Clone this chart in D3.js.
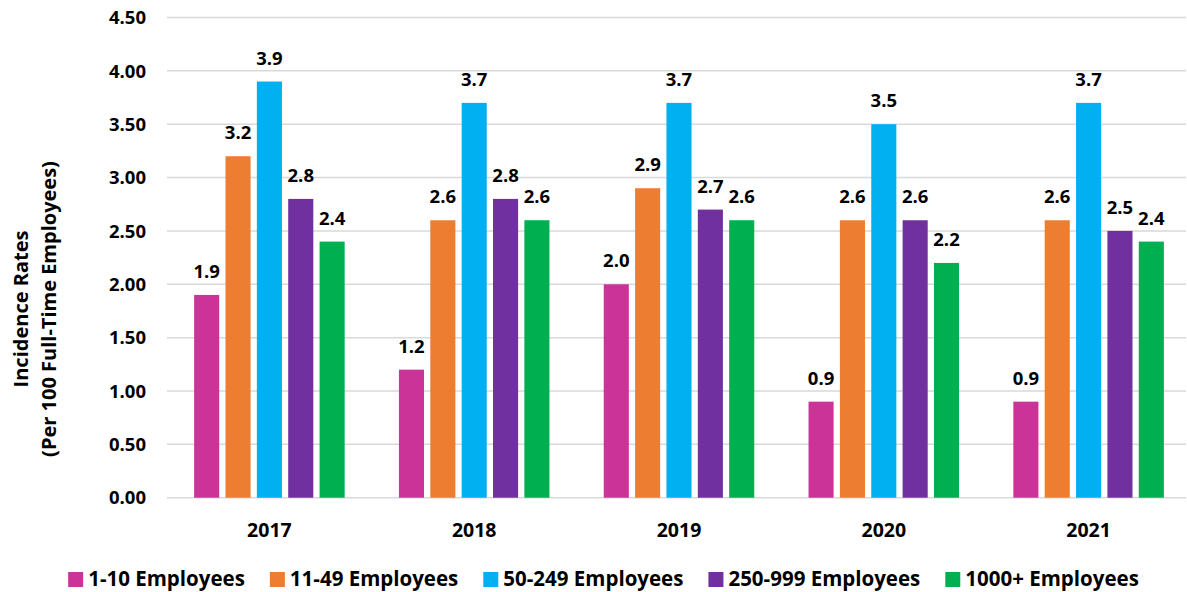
<!DOCTYPE html>
<html>
<head>
<meta charset="utf-8">
<script src="https://cdn.jsdelivr.net/npm/d3@7"></script>
<style>
  body { margin: 0; background: #fff; }
  svg text { font-family: "Open Sans", Lato, sans-serif; font-weight: bold; fill: #000; }
</style>
</head>
<body>
<div id="chart"></div>
<script>
var years = ["2017", "2018", "2019", "2020", "2021"];
var seriesNames = ["1-10 Employees", "11-49 Employees", "50-249 Employees", "250-999 Employees", "1000+ Employees"];
var seriesColors = ["#CC3399", "#ED7D31", "#00B0F0", "#7030A0", "#00B050"];
var emp1to10 = [1.9, 1.2, 2.0, 0.9, 0.9];
var emp11to49 = [3.2, 2.6, 2.9, 2.6, 2.6];
var emp50to249 = [3.9, 3.7, 3.7, 3.5, 3.7];
var emp250to999 = [2.8, 2.8, 2.7, 2.6, 2.5];
var emp1000plus = [2.4, 2.6, 2.6, 2.2, 2.4];
var yTicks = [0, 0.5, 1, 1.5, 2, 2.5, 3, 3.5, 4, 4.5];

var seriesValues = [emp1to10, emp11to49, emp50to249, emp250to999, emp1000plus];

var W = 1187, H = 592;
var m = {top: 17.5, bottom: 94.3, left: 167};

var svg = d3.select("#chart").append("svg").attr("width", W).attr("height", H);

var x0 = d3.scaleBand().domain(years).range([m.left, 1191]).paddingInner(0.265).paddingOuter(0.1325);
var x1 = d3.scaleBand().domain(d3.range(seriesNames.length)).range([0, x0.bandwidth()]).paddingInner(0.2);
var y = d3.scaleLinear().domain([0, 4.5]).range([H - m.bottom, m.top]);

// gridlines
svg.append("g").selectAll("line").data(yTicks).enter().append("line")
  .attr("x1", m.left).attr("x2", W - 1)
  .attr("y1", function(d) { return y(d); }).attr("y2", function(d) { return y(d); })
  .attr("stroke", "#d9d9d9").attr("stroke-width", 1.5);

// y tick labels
svg.append("g").selectAll("text").data(yTicks).enter().append("text")
  .attr("x", 146).attr("y", function(d) { return y(d); }).attr("dy", "0.36em")
  .attr("text-anchor", "end").style("font-size", "18.5px")
  .text(function(d) { return d.toFixed(2); });

// y axis title
var yt = svg.append("g").attr("transform", "translate(0,309) rotate(-90)");
yt.append("text").attr("text-anchor", "middle").attr("y", 28).style("font-size", "20px").text("Incidence Rates");
yt.append("text").attr("text-anchor", "middle").attr("y", 56).style("font-size", "20px").text("(Per 100 Full-Time Employees)");

// bars
var groups = svg.append("g").selectAll("g").data(years).enter().append("g")
  .attr("transform", function(d) { return "translate(" + x0(d) + ",0)"; });

function rowOf(d, i) {
  return seriesValues.map(function(s, k) { return {k: k, v: s[i]}; });
}

groups.selectAll("rect").data(rowOf).enter().append("rect")
  .attr("x", function(d) { return x1(d.k); })
  .attr("width", x1.bandwidth())
  .attr("y", function(d) { return y(d.v); })
  .attr("height", function(d) { return y(0) - y(d.v); })
  .attr("fill", function(d) { return seriesColors[d.k]; });

groups.selectAll("text.lbl").data(rowOf).enter().append("text").attr("class", "lbl")
  .attr("x", function(d) { return x1(d.k) + x1.bandwidth() / 2; })
  .attr("y", function(d) { return y(d.v) - 17; })
  .attr("text-anchor", "middle").style("font-size", "18.5px")
  .text(function(d) { return d.v.toFixed(1); });

// x labels
svg.append("g").selectAll("text").data(years).enter().append("text")
  .attr("x", function(d) { return x0(d) + x0.bandwidth() / 2; })
  .attr("y", 537).attr("text-anchor", "middle").style("font-size", "19.5px")
  .text(function(d) { return d; });

// legend
var leg = svg.append("g");
var items = leg.selectAll("g").data(seriesNames).enter().append("g");
items.append("rect").attr("width", 15).attr("height", 15).attr("y", -14)
  .attr("fill", function(d, i) { return seriesColors[i]; });
items.append("text").attr("x", 20).style("font-size", "20.5px").text(function(d) { return d; });
var gap = 25, pos = 0, starts = [];
items.each(function() {
  starts.push(pos);
  pos += 20 + this.querySelector("text").getComputedTextLength() + gap;
});
var total = pos - gap;
var lx = (W - total) / 2 + 10;
items.attr("transform", function(d, i) { return "translate(" + (lx + starts[i]) + ",586)"; });
</script>
</body>
</html>
